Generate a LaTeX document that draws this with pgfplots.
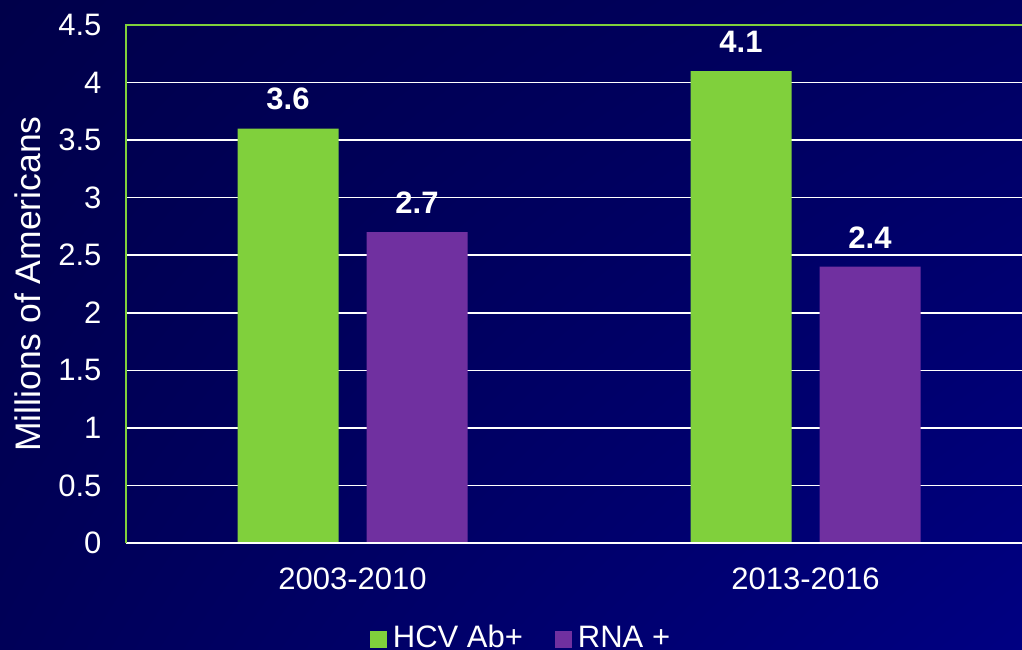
\documentclass[border=0pt]{standalone}
\usepackage{pgfplots}
\pgfplotsset{compat=1.18}
\usetikzlibrary{shadings}
\usepackage{fontspec}
\setmainfont{Liberation Sans}
\definecolor{bgUL}{HTML}{00004A}
\definecolor{bgUR}{HTML}{000062}
\definecolor{bgLL}{HTML}{000058}
\definecolor{bgLR}{HTML}{000082}
\definecolor{hcvgreen}{HTML}{80D03C}
\definecolor{rnapurple}{HTML}{7030A0}
\begin{document}
\begin{tikzpicture}
\clip (0bp,0bp) rectangle (1022bp,650bp);
\shade[upper left=bgUL, upper right=bgUR, lower left=bgLL, lower right=bgLR] (0bp,0bp) rectangle (1022bp,650bp);
\begin{axis}[
  at={(126bp,107bp)}, anchor=south west,
  scale only axis, width=906bp, height=518bp,
  ybar=28bp, bar width=101bp,
  xmin=-0.5, xmax=1.5, ymin=0, ymax=4.5,
  xtick={0,1}, xticklabels={2003-2010,2013-2016},
  ytick={0,0.5,1,1.5,2,2.5,3,3.5,4,4.5},
  yticklabels={0,0.5,1,1.5,2,2.5,3,3.5,4,4.5},
  tick style={draw=none},
  axis line style={draw=none},
  ymajorgrids, major grid style={white, line width=1.6bp},
  clip=false,
  font=\fontsize{31bp}{36bp}\selectfont,
  tick label style={white, font=\fontsize{31bp}{36bp}\selectfont},
  yticklabel style={xshift=-21bp},
  xticklabel style={yshift=-17bp},
  every axis y label/.style={at={([xshift=-98bp]rel axis cs:0,0.5)}, rotate=90, anchor=center},
  ylabel={Millions of Americans},
  ylabel style={white, font=\fontsize{35.5bp}{40bp}\selectfont},
  nodes near coords,
  nodes near coords style={white, font=\bfseries\fontsize{31bp}{36bp}\selectfont, yshift=15bp,
    /pgf/number format/assume math mode=true,
    /pgf/number format/fixed, /pgf/number format/precision=1, /pgf/number format/fixed zerofill},
  legend columns=-1,
  legend style={at={(0.436,0)}, anchor=north, yshift=-80bp, draw=none, fill=none,
    text=white, font=\fontsize{31bp}{36bp}\selectfont, inner sep=0pt,
    /tikz/every odd column/.append style={column sep=4bp},
    /tikz/every even column/.append style={column sep=30bp}},
  legend image code/.code={\fill[#1] (0bp,-11bp) rectangle (17bp,6bp);},
]
\addplot[fill=hcvgreen, draw=none] coordinates {(0,3.6) (1,4.1)};
\addplot[fill=rnapurple, draw=none] coordinates {(0,2.7) (1,2.4)};
\legend{HCV Ab+, RNA +}
\draw[white, line width=2bp] (rel axis cs:0,0) -- (rel axis cs:1,0);
\draw[hcvgreen, line width=2.2bp] (rel axis cs:0,0) -- (rel axis cs:0,1) -- (rel axis cs:1,1);
\end{axis}
\end{tikzpicture}
\end{document}
